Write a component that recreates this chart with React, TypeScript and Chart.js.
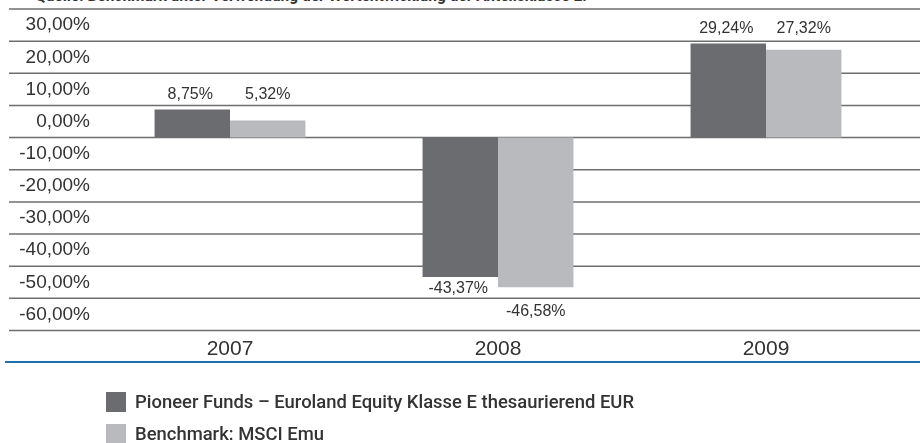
import React, { useEffect, useRef } from "react";
import { Chart, registerables } from "chart.js";

Chart.register(...registerables);

const categories = ["2007", "2008", "2009"];
const fundValues = [8.75, -43.37, 29.24];
const benchmarkValues = [5.32, -46.58, 27.32];
const seriesNames = [
  "Pioneer Funds – Euroland Equity Klasse E thesaurierend EUR",
  "Benchmark: MSCI Emu",
];
const yMin = -60;
const yMax = 40;
const yStep = 10;
const sourceNote =
  "Quelle: Benchmark unter Verwendung der Wertentwicklung der Anteilsklasse E.";

const DARK = "#6b6c70";
const LIGHT = "#b9babd";
const TEXT = "#333333";

const fmt = (v: number) => v.toFixed(2).replace(".", ",") + "%";

const gridPlugin = {
  id: "fullGrid",
  beforeDatasetsDraw(chart: any) {
    const { ctx, scales } = chart;
    const y = scales.y;
    ctx.save();
    ctx.strokeStyle = "#6e6e6e";
    ctx.lineWidth = 1.5;
    for (let v = yMin; v <= yMax; v += yStep) {
      const py = y.getPixelForValue(v);
      ctx.beginPath();
      ctx.moveTo(9, py);
      ctx.lineTo(920, py);
      ctx.stroke();
    }
    ctx.restore();
  },
  afterDraw(chart: any) {
    const { ctx, chartArea } = chart;
    ctx.save();
    ctx.strokeStyle = "#1f6fae";
    ctx.lineWidth = 2;
    const py = chartArea.bottom + 31.5;
    ctx.beginPath();
    ctx.moveTo(5, py);
    ctx.lineTo(920, py);
    ctx.stroke();
    ctx.restore();
  },
};

const labelPlugin = {
  id: "barLabels",
  afterDatasetsDraw(chart: any) {
    const { ctx } = chart;
    const m0 = chart.getDatasetMeta(0);
    const m1 = chart.getDatasetMeta(1);
    ctx.save();
    ctx.font = "16px 'Liberation Sans', Arial, sans-serif";
    ctx.fillStyle = TEXT;
    ctx.textAlign = "center";
    ctx.textBaseline = "middle";
    categories.forEach((_, i) => {
      const metas = [m0, m1];
      const vals = [fundValues[i], benchmarkValues[i]];
      const tops = metas.map((m, k) => (vals[k] >= 0 ? m.data[i].y : Infinity));
      const groupTop = Math.min(...tops);
      metas.forEach((m, k) => {
        const el = m.data[i];
        const v = vals[k];
        let ly: number;
        if (v >= 0) ly = groupTop - 15;
        else ly = el.y + (k === 0 ? 12 : 24);
        ctx.fillText(fmt(v), el.x - (k === 0 ? 2 : 0), ly);
      });
    });
    ctx.restore();
  },
};

const condensed = "Roboto, 'Liberation Sans', Arial, sans-serif";

export default function App() {
  const ref = useRef<HTMLCanvasElement>(null);
  useEffect(() => {
    if (!ref.current) return;
    const chart = new Chart(ref.current, {
      type: "bar",
      data: {
        labels: categories,
        datasets: [
          {
            label: seriesNames[0],
            data: fundValues,
            backgroundColor: DARK,
            barPercentage: 1,
            categoryPercentage: 0.563,
          },
          {
            label: seriesNames[1],
            data: benchmarkValues,
            backgroundColor: LIGHT,
            barPercentage: 1,
            categoryPercentage: 0.563,
          },
        ],
      },
      options: {
        responsive: false,
        animation: false,
        layout: { padding: { top: 9, right: 20, bottom: 0, left: 0 } },
        plugins: {
          legend: { display: false },
          tooltip: { enabled: false },
        },
        scales: {
          x: {
            grid: { display: false },
            border: { display: false },
            ticks: {
              color: TEXT,
              font: { family: "'Liberation Sans', Arial, sans-serif", size: 21, lineHeight: 1 },
              padding: 0,
            },
            afterFit(scale: any) {
              scale.height = 112.5;
            },
          },
          y: {
            min: yMin,
            max: yMax,
            grid: { display: false, drawTicks: false },
            border: { display: false },
            ticks: {
              stepSize: yStep,
              color: TEXT,
              padding: 6,
              labelOffset: -16,
              font: { family: "'Liberation Sans', Arial, sans-serif", size: 19 },
              callback: (v: any) => (Number(v) >= yMax ? "" : fmt(Number(v))),
            },
            afterFit(scale: any) {
              scale.width = 96;
              scale.paddingTop = 0;
              scale.paddingBottom = 0;
            },
          },
        },
      },
      plugins: [gridPlugin, labelPlugin],
    });
    return () => chart.destroy();
  }, []);

  const legendText: React.CSSProperties = {
    position: "absolute",
    left: 135,
    fontFamily: condensed,
    fontWeight: 500,
    fontSize: 19,
    lineHeight: "20px",
    color: "#333333",
    whiteSpace: "nowrap",
    transform: "scaleX(0.97)",
    transformOrigin: "left center",
  };
  const box = (top: number, color: string): React.CSSProperties => ({
    position: "absolute",
    left: 106,
    top,
    width: 20,
    height: 20,
    background: color,
  });

  return (
    <div
      style={{
        position: "absolute",
        left: 0,
        top: 0,
        width: 920,
        height: 443,
        overflow: "hidden",
        background: "#ffffff",
      }}
    >
      <div
        style={{
          position: "absolute",
          left: 35,
          top: -13,
          fontFamily: condensed,
          fontWeight: "bold",
          fontSize: 17,
          lineHeight: "17px",
          color: "#333",
          whiteSpace: "nowrap",
          transform: "scaleX(0.91)",
          transformOrigin: "left center",
        }}
      >
        {sourceNote}
      </div>
      <canvas ref={ref} width={920} height={443} style={{ position: "absolute", left: 0, top: 0 }} />
      <div style={box(392, DARK)} />
      <div style={{ ...legendText, top: 392 }}>{seriesNames[0]}</div>
      <div style={box(424, LIGHT)} />
      <div style={{ ...legendText, top: 424 }}>{seriesNames[1]}</div>
    </div>
  );
}
